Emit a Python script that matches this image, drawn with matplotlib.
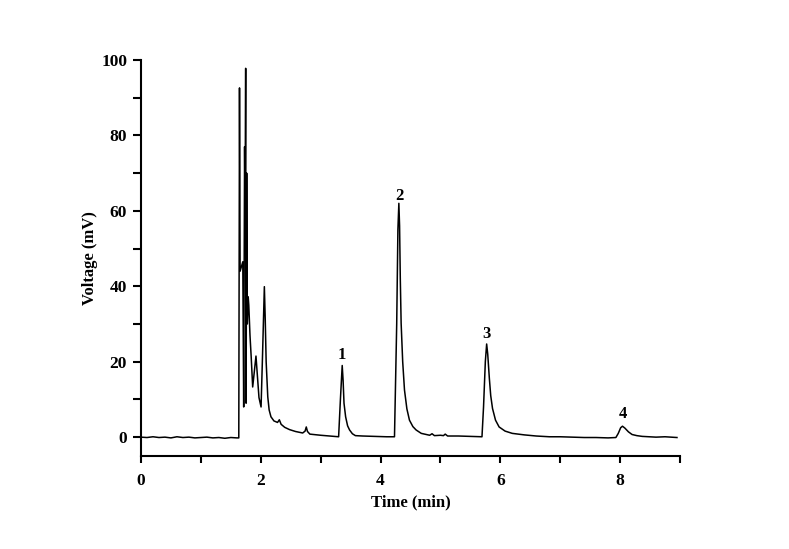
import matplotlib.pyplot as plt
from matplotlib.ticker import MultipleLocator

plt.rcParams["font.family"] = ["Liberation Serif", "DejaVu Serif"]
plt.rcParams["font.weight"] = "bold"

# Chromatogram trace (time in min, voltage in mV)
time = [
    0.0, 0.1, 0.2, 0.3, 0.4, 0.5, 0.6, 0.7, 0.8, 0.9, 1.0, 1.1, 1.2, 1.3, 1.4, 1.5, 1.6, 1.633,
    1.645, 1.655, 1.70, 1.715, 1.73, 1.738, 1.748, 1.755, 1.765, 1.775, 1.79, 1.80, 1.82,
    1.84, 1.865, 1.89, 1.92, 1.94, 1.97, 2.005, 2.03, 2.06, 2.075, 2.09, 2.117, 2.14, 2.17,
    2.22, 2.28, 2.31, 2.34, 2.40, 2.48, 2.58, 2.70, 2.74, 2.76, 2.78, 2.82, 3.0, 3.15,
    3.28, 3.30, 3.33, 3.36, 3.375, 3.39, 3.417, 3.45, 3.483, 3.53, 3.58, 3.7, 3.9, 4.1,
    4.233, 4.27, 4.29, 4.306, 4.318, 4.33, 4.344, 4.37, 4.40, 4.44, 4.483, 4.54, 4.594,
    4.68, 4.82, 4.86, 4.90, 5.0, 5.05, 5.08, 5.12, 5.3, 5.5, 5.694, 5.72, 5.75, 5.772,
    5.79, 5.817, 5.84, 5.87, 5.92, 5.98, 6.08, 6.2, 6.4, 6.6, 6.82, 7.0, 7.2, 7.4, 7.6,
    7.8, 7.93, 7.97, 8.01, 8.04, 8.08, 8.14, 8.2, 8.28, 8.37, 8.5, 8.6, 8.75, 8.95,
]
voltage = [
    0.0, -0.1, 0.1, -0.1, 0.0, -0.2, 0.1, -0.1, 0.0, -0.2, -0.1, 0.0, -0.2, -0.1, -0.3, -0.1, -0.2, -0.2,
    92.6, 44.0, 46.5, 8.0, 77.0, 60.0, 97.8, 9.0, 70.0, 30.0, 37.2, 35.0, 27.0,
    21.3, 13.3, 17.0, 21.5, 17.0, 10.5, 8.0, 22.0, 39.9, 31.0, 20.0, 10.7, 7.2, 5.4,
    4.3, 3.9, 4.6, 3.4, 2.6, 2.0, 1.5, 1.1, 1.6, 2.7, 1.5, 0.8, 0.5, 0.3,
    0.1, 0.1, 10.0, 19.0, 15.0, 9.0, 5.4, 3.0, 1.9, 0.9, 0.4, 0.3, 0.2, 0.1,
    0.1, 30.0, 55.0, 62.0, 56.0, 42.0, 30.2, 20.0, 12.5, 7.5, 4.5, 2.8, 1.9,
    1.0, 0.5, 0.9, 0.4, 0.5, 0.4, 0.8, 0.3, 0.3, 0.2, 0.1, 8.0, 20.0, 24.7,
    22.0, 15.6, 11.0, 7.6, 4.5, 2.7, 1.6, 1.0, 0.6, 0.3, 0.1, 0.1, 0.0, -0.1, -0.1,
    -0.2, -0.1, 1.0, 2.5, 2.9, 2.4, 1.4, 0.7, 0.4, 0.2, 0.1, 0.0, 0.1, -0.1,
]

# Peak labels
peak_names = ["1", "2", "3", "4"]
peak_times = [3.36, 4.31, 5.77, 8.04]
peak_label_y = [19.6, 61.8, 25.3, 3.9]

fig = plt.figure(figsize=(7.89, 5.49), dpi=100)
ax = fig.add_axes([0.1787, 0.1694, 0.6831, 0.7213])

ax.plot(time, voltage, color="black", linewidth=1.1)

for name, t, y in zip(peak_names, peak_times, peak_label_y):
    ax.text(t, y, name, ha="center", va="bottom", fontsize=12, fontweight="bold")

ax.set_xlim(0, 9)
ax.set_ylim(-5, 100)

ax.xaxis.set_major_locator(MultipleLocator(2))
ax.xaxis.set_minor_locator(MultipleLocator(1))
ax.yaxis.set_major_locator(MultipleLocator(20))
ax.yaxis.set_minor_locator(MultipleLocator(10))

ax.spines["top"].set_visible(False)
ax.spines["right"].set_visible(False)
for side in ("left", "bottom"):
    ax.spines[side].set_linewidth(1.5)

ax.tick_params(axis="both", which="both", direction="out", width=1.5, labelsize=12.5)
ax.tick_params(axis="x", which="both", length=5, pad=7)
ax.tick_params(axis="y", which="both", length=6, pad=4)
for lab in ax.get_xticklabels() + ax.get_yticklabels():
    lab.set_fontweight("bold")

ax.set_xlabel("Time (min)", fontsize=12, fontweight="bold", labelpad=4)
ax.set_ylabel("Voltage (mV)", fontsize=12, fontweight="bold", labelpad=2)

fig.savefig("out.png", dpi=100)
